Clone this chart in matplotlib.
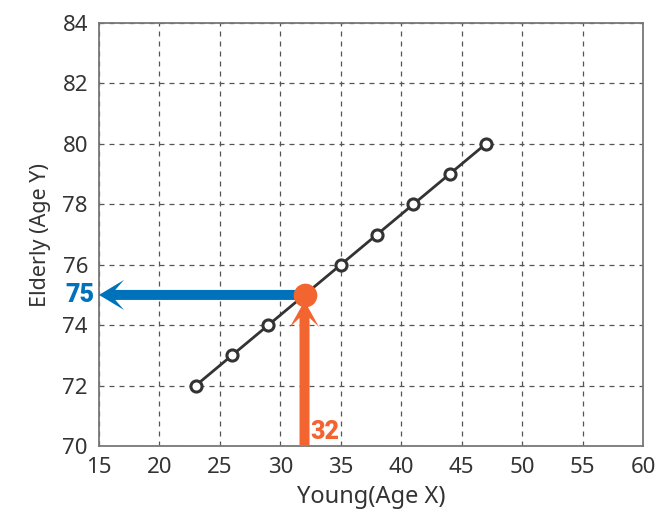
import matplotlib
matplotlib.use("Agg")
import matplotlib.pyplot as plt

plt.rcParams['font.family'] = ['Noto Sans', 'DejaVu Sans']

young = [23, 26, 29, 32, 35, 38, 41, 44, 47]
elderly = [72, 73, 74, 75, 76, 77, 78, 79, 80]
hl_x = 32
hl_y = 75
xticks = [15, 20, 25, 30, 35, 40, 45, 50, 55, 60]
yticks = [70, 72, 74, 76, 78, 80, 82, 84]

W, H = 670, 514
fig = plt.figure(figsize=(W / 100, H / 100), dpi=100)
L, R, T, B = 99, 643, 23, 446
ax = fig.add_axes([L / W, 1 - B / H, (R - L) / W, (B - T) / H])

ax.set_xlim(15, 60)
ax.set_ylim(70, 84)
ax.set_xticks(xticks)
ax.set_yticks(yticks)
ax.grid(True, linestyle=(0, (4, 4)), color='#555555', linewidth=0.9)
ax.set_axisbelow(True)
for s in ax.spines.values():
    s.set_color('#777777')
    s.set_linewidth(1.3)
ax.tick_params(length=0, pad=8, labelsize=16, colors='#333333')

ax.plot(young, elderly, color='#333333', lw=2, marker='o', ms=8,
        mfc='white', mec='#333333', mew=2.2, zorder=3)

px_x = (R - L) / 45.0
px_y = (B - T) / 14.0

ax.arrow(hl_x, hl_y, -(hl_x - 15), 0, width=10 / px_y,
         head_width=30 / px_y, head_length=25 / px_x, overhang=0.35,
         length_includes_head=True, color='#0072BC', lw=0, zorder=4)

ax.arrow(hl_x, 70, 0, hl_y - 70 - 0.2, width=10 / px_x,
         head_width=29 / px_x, head_length=26 / px_y, overhang=0.35,
         length_includes_head=True, color='#F26430', lw=0, zorder=4,
         clip_on=False)

ax.plot([hl_x], [hl_y], 'o', ms=16, color='#F26430', zorder=5)

ax.text(15 - 0.35, hl_y, str(hl_y), color='#0072BC', fontsize=18,
        fontweight='heavy', ha='right', va='center',
        family=['Roboto', 'DejaVu Sans'])
ax.text(hl_x + 0.5, 70.45, str(hl_x), color='#F26430', fontsize=18,
        fontweight='heavy', ha='left', va='center',
        family=['Roboto', 'DejaVu Sans'])

ax.set_xlabel('Young(Age X)', fontsize=17, color='#333333', labelpad=5)
ax.set_ylabel('Elderly (Age Y)', fontsize=15.5, color='#333333', labelpad=8)

fig.savefig('out.png', dpi=100)
